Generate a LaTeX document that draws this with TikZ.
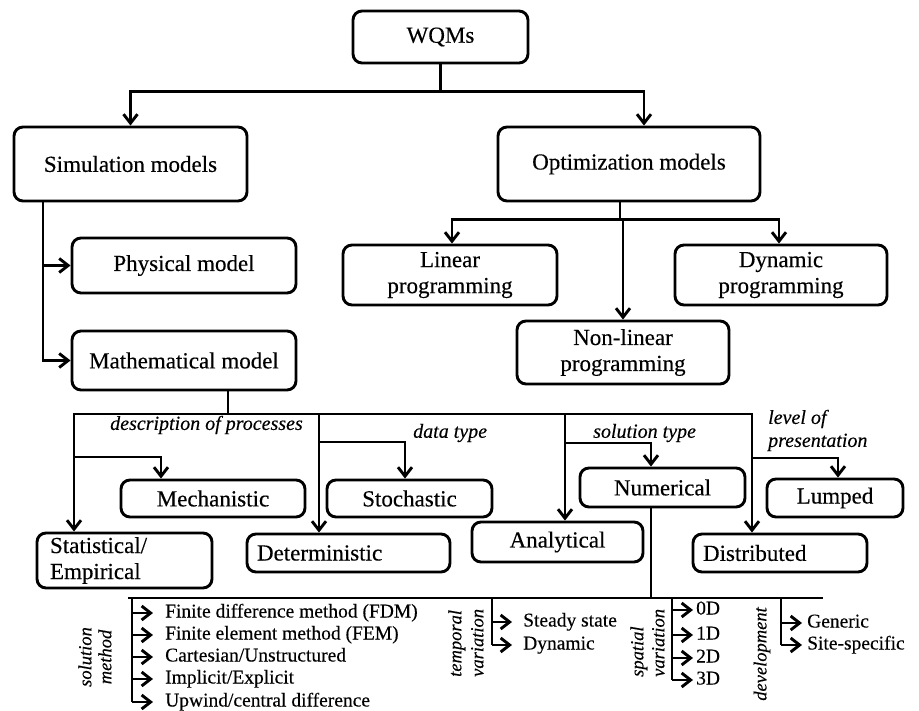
\documentclass[tikz,border=0pt]{standalone}
\usepackage{fontspec}
\setmainfont{Liberation Serif}[FakeBold=0.3]
\usetikzlibrary{arrows.meta,calc}
\begin{document}
\begin{tikzpicture}[x=1pt,y=-1pt,
  box/.style={draw, line width=2.9pt, rounded corners=9pt, inner sep=0pt, align=center, font=\fontsize{23}{26}\selectfont},
  ln/.style={line width=2.9pt, line join=miter},
  arr/.style={line width=2.9pt, line join=miter, -{Straight Barb[length=9pt,width=14pt]}},
  item/.style={inner sep=0pt, anchor=west, font=\fontsize{19.5}{22}\selectfont, text height=13pt, text depth=4pt},
  lab/.style={inner sep=0pt, font=\fontsize{20}{23}\selectfont\itshape},
  rlab/.style={inner sep=0pt, rotate=90, font=\fontsize{18.5}{21}\selectfont\itshape},
]
\useasboundingbox (0,0) rectangle (919,711);

% boxes
\node[box, minimum width=175pt, minimum height=52pt] (wqm) at (440.5,37) {WQMs};
\node[box, minimum width=233pt, minimum height=74pt] (sim) at (130.5,164) {Simulation models};
\node[box, minimum width=262pt, minimum height=74pt] (opt) at (629,164) {Optimization models};
\node[box, minimum width=224pt, minimum height=55pt] (phys) at (184,265.5) {Physical model};
\node[box, minimum width=224pt, minimum height=59pt] (math) at (184,360.5) {Mathematical model};
\node[box, minimum width=214pt, minimum height=60pt] (lin) at (450,275) {Linear\\programming};
\node[box, minimum width=212pt, minimum height=60pt] (dyn) at (781,275) {Dynamic\\programming};
\node[box, minimum width=212pt, minimum height=63pt] (nonlin) at (623,352.5) {Non-linear\\programming};
\node[box, minimum width=184pt, minimum height=37pt] (mech) at (213,498.5) {Mechanistic};
\node[box, minimum width=165pt, minimum height=37pt] (stoch) at (409.5,498.5) {Stochastic};
\node[box, minimum height=55pt, text width=149pt, inner xsep=13pt, align=left] (stat) at (124.5,560.5) {Statistical/\\Empirical};
\node[box, minimum height=38pt, text width=183pt, inner xsep=10pt, align=left] (det) at (348.5,553) {Deterministic};
\node[box, minimum width=165pt, minimum height=39pt] (num) at (662.5,487.5) {Numerical};
\node[box, minimum width=171pt, minimum height=40pt] (ana) at (557.5,542) {Analytical};
\node[box, minimum width=136pt, minimum height=38pt] (lump) at (835,498) {Lumped};
\node[box, minimum height=38pt, text width=154pt, inner xsep=10pt, align=left] (dist) at (780,553) {Distributed};

% top connectors
\draw[ln] (wqm.south) -- ++(0,27) coordinate (j0);
\draw[arr] (j0) -| (sim.north);
\draw[arr] (j0) -| ([xshift=15pt]opt.north);

\coordinate (s0) at ([xshift=-87.5pt]sim.south);
\draw[arr] (s0) |- (phys.west);
\draw[arr] (s0) |- (math.west);

\draw[ln] ([xshift=-9pt]opt.south) -- ++(0,17) coordinate (j1);
\draw[arr] (j1) -| ([xshift=2pt]lin.north);
\draw[arr] (j1) -| ([xshift=-2pt]dyn.north);
\draw[arr] (j1 -| nonlin.north) -- (nonlin.north);

% mathematical model branches
\draw[ln] ([xshift=44pt]math.south) -- ++(0,24) coordinate (j2);
\coordinate (b1) at (74,414);
\coordinate (b2) at (319,414);
\coordinate (b3) at (565,414);
\coordinate (b4) at (752,414);
\draw[arr] (b4) -- (b1) -- (b1 |- stat.north);
\draw[arr] (b1) -- (b4) -- (b4 |- dist.north);
\draw[arr] (b1 |- 0,457) -| ([xshift=-52pt]mech.north);
\draw[arr] (b2) -- (b2 |- det.north);
\draw[arr] (b2 |- 0,442) -| ([xshift=-4.5pt]stoch.north);
\draw[arr] (b3) -- (b3 |- ana.north);
\draw[arr] (b3 |- 0,443) -| ([xshift=-11.5pt]num.north);
\draw[arr] (b4 |- 0,458) -| ([xshift=3pt]lump.north);

% labels
\node[lab, anchor=west] (ldesc) at (110,425) {description of processes};
\node[lab, anchor=west] (ldata) at (413,433) {data type};
\node[lab, anchor=west] (lsol) at (593,433) {solution type};
\node[lab, anchor=west, align=left] (llev) at (768,430.5) {level of\\presentation};

% bottom bar
\draw[ln] ([xshift=-11.5pt]num.south) -- ++(0,91) coordinate (j3);
\coordinate (hL) at (128,598);
\coordinate (hR) at (823,598);
\draw[ln] (hL) -- (hR);

% solution method
\node[rlab, align=center, font=\fontsize{18.5}{20}\selectfont\itshape] (lsm) at (95,657) {solution\\method};
\node[item] (fdm) at (165,613) {Finite difference method (FDM)};
\node[item] (fem) at (165,635) {Finite element method (FEM)};
\node[item] (cart) at (165,657) {Cartesian/Unstructured};
\node[item] (impl) at (165,679) {Implicit/Explicit};
\node[item] (upw) at (165,702) {Upwind/central difference};
\coordinate (sm) at (132,598);
\draw[ln] (sm) -- (sm |- upw.west);
\foreach \n in {fdm,fem,cart,impl,upw}
  \draw[arr] (sm |- \n.west) -- ([xshift=-12pt]\n.west);

% temporal variation
\node[rlab, align=left, anchor=west, font=\fontsize{18.5}{22}\selectfont\itshape] (ltv) at (466,677) {temporal\\variation};
\node[item] (ss) at (523,622) {Steady state};
\node[item] (dy) at (523,645) {Dynamic};
\coordinate (tv) at (492,598);
\draw[ln] (tv) -- (tv |- dy.west);
\foreach \n in {ss,dy}
  \draw[arr] (tv |- \n.west) -- ([xshift=-11pt]\n.west);

% spatial variation
\node[rlab, align=left, anchor=west, font=\fontsize{18.5}{21}\selectfont\itshape] (lsv) at (647.5,677) {spatial\\variation};
\node[item] (d0) at (696,610) {0D};
\node[item] (d1) at (696,635) {1D};
\node[item] (d2) at (696,658) {2D};
\node[item] (d3) at (696,680) {3D};
\coordinate (sv) at (672,598);
\draw[ln] (sv) -- (sv |- d3.west);
\foreach \n in {d0,d1,d2,d3}
  \draw[arr] (sv |- \n.west) -- ([xshift=-3pt]\n.west);

% development
\node[rlab] (ldev) at (762,654) {development};
\node[item] (gen) at (807,623) {Generic};
\node[item] (site) at (807,645) {Site-specific};
\coordinate (dv) at (781,598);
\draw[ln] (dv) -- (dv |- site.west);
\foreach \n in {gen,site}
  \draw[arr] (dv |- \n.west) -- ([xshift=-5pt]\n.west);
\end{tikzpicture}
\end{document}
